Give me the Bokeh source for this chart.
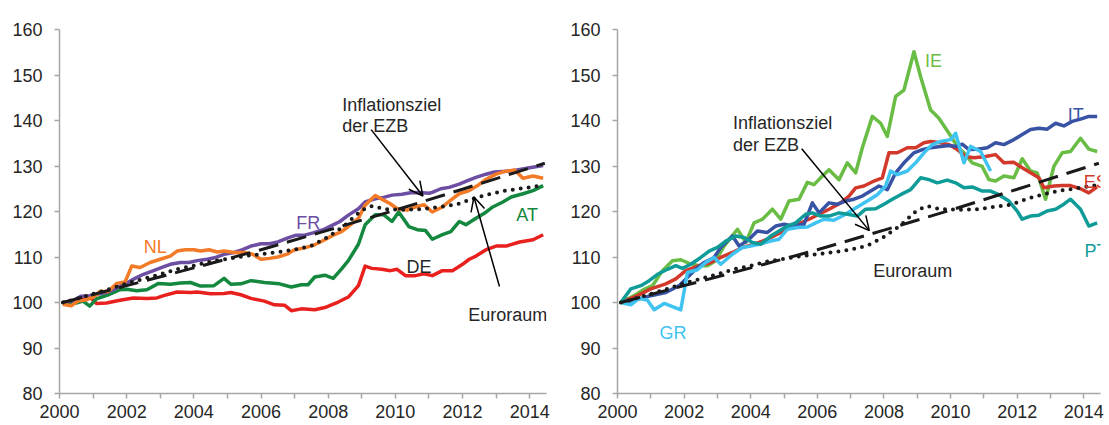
from bokeh.plotting import figure
from bokeh.layouts import row
from bokeh.models import Range1d, FixedTicker, Label, Arrow, OpenHead
from bokeh.embed import file_html
from bokeh.resources import INLINE

# ---------------- data ----------------
years_major = [2000, 2002, 2004, 2006, 2008, 2010, 2012, 2014]
years_minor = [2001, 2003, 2005, 2007, 2009, 2011, 2013]
y_ticks = [80, 90, 100, 110, 120, 130, 140, 150, 160]

# ECB inflation target path (index 2000 = 100)
EZB = [(2000.1, 100), (2002, 103.7), (2004, 107.6), (2006, 111.6), (2008, 115.9),
       (2010, 120.3), (2012, 124.9), (2014.45, 130.6)]

# Euro area price index (dotted)
EURORAUM = [(2000.1, 100), (2000.5, 100.8), (2001, 101.9), (2001.5, 103), (2002, 104.2),
            (2002.5, 105.2), (2003, 106.2), (2003.5, 107.3), (2004, 108.1), (2004.5, 109),
            (2005, 109.6), (2005.5, 110.2), (2006, 110.6), (2006.5, 111.1), (2007, 111.6),
            (2007.5, 112.5), (2008, 114.4), (2008.5, 117), (2009, 120.3), (2009.3, 121.2),
            (2009.7, 120.5), (2010.3, 120.4), (2010.8, 120.5), (2011.3, 121), (2011.8, 121.5),
            (2012.3, 122.8), (2012.8, 123.8), (2013.3, 124.6), (2013.8, 125.1), (2014.4, 125.8)]

DE = [(2000.1, 100), (2000.4, 100.4), (2000.9, 101.2), (2001.1, 99.8), (2001.4, 99.9),
      (2001.8, 100.5), (2002.2, 101), (2002.6, 100.9), (2002.9, 101), (2003.1, 101.5),
      (2003.5, 102.3), (2003.9, 102.2), (2004.1, 102.3), (2004.5, 101.9), (2004.9, 102),
      (2005.1, 102.2), (2005.4, 101.7), (2005.7, 100.9), (2006.1, 100.3), (2006.4, 99.5),
      (2006.7, 99.4), (2006.9, 98.2), (2007.2, 98.6), (2007.6, 98.4), (2007.9, 98.9),
      (2008.3, 100.1), (2008.6, 101.2), (2008.9, 103.7), (2009.1, 108), (2009.3, 107.5),
      (2009.6, 107.3), (2009.85, 107), (2010.05, 107.3), (2010.3, 105.9), (2010.6, 105.9),
      (2010.85, 106.3), (2011.1, 105.9), (2011.4, 107), (2011.7, 107), (2012.0, 108.4),
      (2012.2, 109.5), (2012.4, 110.2), (2012.7, 111.6), (2013.0, 112.4), (2013.3, 112.4),
      (2013.7, 113.3), (2014.1, 113.8), (2014.4, 114.9)]

AT = [(2000.1, 100), (2000.5, 99.9), (2000.7, 100.3), (2000.9, 99.2), (2001.1, 100.8),
      (2001.45, 101.7), (2001.8, 102.8), (2002.0, 102.9), (2002.3, 102.6), (2002.6, 102.8),
      (2002.95, 104.2), (2003.3, 104), (2003.6, 104.3), (2003.9, 104.4), (2004.2, 103.6),
      (2004.6, 103.7), (2004.9, 105.3), (2005.1, 104), (2005.4, 104.1), (2005.7, 104.8),
      (2006.1, 104.4), (2006.55, 104.1), (2006.9, 103.4), (2007.2, 103.9), (2007.4, 103.9),
      (2007.6, 105.6), (2007.9, 106), (2008.15, 105.3), (2008.4, 107.4), (2008.6, 109.2),
      (2008.9, 112.8), (2009.1, 117.1), (2009.4, 119.3), (2009.65, 119.3), (2009.9, 117.8),
      (2010.1, 119.9), (2010.4, 116.7), (2010.65, 116), (2010.9, 115.8), (2011.1, 113.9),
      (2011.4, 114.9), (2011.65, 115.6), (2011.9, 117.8), (2012.1, 117.1), (2012.4, 118.5),
      (2012.65, 119.6), (2012.9, 121), (2013.2, 122.1), (2013.45, 123.2), (2013.8, 123.9),
      (2014.1, 124.6), (2014.4, 125.7)]

NL = [(2000.1, 99.6), (2000.35, 99.3), (2000.55, 100.3), (2000.8, 100.6), (2001.05, 101.4),
      (2001.2, 102.4), (2001.45, 102.4), (2001.7, 104.2), (2001.95, 104.5), (2002.15, 108),
      (2002.4, 107.7), (2002.7, 108.8), (2003.0, 109.5), (2003.3, 110.2), (2003.5, 111.3),
      (2003.75, 111.6), (2004.0, 111.6), (2004.2, 111.3), (2004.45, 111.6), (2004.7, 111.1),
      (2004.9, 111.3), (2005.2, 111), (2005.5, 111), (2005.75, 110.6), (2006.0, 109.5),
      (2006.25, 109.7), (2006.5, 110), (2006.8, 110.7), (2007.0, 111.6), (2007.3, 112),
      (2007.6, 112.7), (2007.9, 113.8), (2008.15, 114.8), (2008.4, 115.6), (2008.6, 116.7),
      (2008.9, 118.5), (2009.1, 121.4), (2009.4, 123.5), (2009.65, 122.5), (2009.85, 121.7),
      (2010.05, 120.6), (2010.35, 120.3), (2010.6, 121), (2010.85, 121.5), (2011.1, 119.9),
      (2011.4, 121), (2011.65, 122.5), (2011.9, 123.9), (2012.2, 124.6), (2012.45, 125.7),
      (2012.7, 127.1), (2013.0, 128.2), (2013.25, 128.8), (2013.55, 129.1), (2013.8, 127.3),
      (2014.1, 127.8), (2014.4, 127.3)]

FR = [(2000.1, 100), (2000.4, 100.4), (2000.65, 101.4), (2000.9, 101.5), (2001.2, 101.9),
      (2001.45, 102.3), (2001.7, 103.2), (2002.0, 104.3), (2002.25, 105.3), (2002.5, 106.2),
      (2002.8, 107), (2003.05, 107.7), (2003.3, 108.4), (2003.6, 108.8), (2003.85, 108.8),
      (2004.1, 109.2), (2004.4, 109.5), (2004.65, 109.9), (2004.9, 110.6), (2005.2, 111),
      (2005.45, 111.6), (2005.7, 112.4), (2006.0, 112.9), (2006.25, 112.9), (2006.5, 113.3),
      (2006.8, 114.2), (2007.05, 114.8), (2007.3, 114.8), (2007.55, 115.3), (2007.85, 116),
      (2008.1, 116.9), (2008.35, 117.8), (2008.6, 119.2), (2008.9, 120.6), (2009.1, 122.1),
      (2009.4, 122.8), (2009.65, 123.1), (2009.9, 123.6), (2010.2, 123.8), (2010.45, 124.1),
      (2010.7, 124.2), (2011.0, 124), (2011.1, 124.2), (2011.35, 125), (2011.6, 125.3),
      (2011.9, 126), (2012.15, 126.8), (2012.4, 127.5), (2012.7, 128.2), (2012.95, 128.7),
      (2013.2, 128.8), (2013.45, 128.9), (2013.75, 129.3), (2014.0, 129.6), (2014.4, 130.1)]

IT = [(2000.1, 100), (2000.5, 100.5), (2001.0, 101.5), (2001.45, 102.2), (2001.85, 103.7),
      (2002.3, 107), (2002.6, 108.8), (2002.9, 109.9), (2003.1, 112.1), (2003.45, 114.6),
      (2003.65, 112.4), (2003.95, 113.9), (2004.2, 115.7), (2004.5, 115.4), (2004.75, 116.8),
      (2005.0, 117.2), (2005.25, 116.8), (2005.6, 117.2), (2005.85, 121.9), (2006.05, 119.7),
      (2006.35, 121.9), (2006.6, 121.6), (2006.85, 122.3), (2007.1, 122.7), (2007.35, 123.4),
      (2007.6, 124.5), (2007.85, 125.6), (2008.1, 124.8), (2008.35, 128.5), (2008.6, 130.7),
      (2008.9, 132.9), (2009.15, 133.6), (2009.4, 134), (2009.7, 134.3), (2009.95, 134.5),
      (2010.2, 134.3), (2010.35, 134.8), (2010.55, 133.6), (2010.8, 133.7), (2011.1, 134),
      (2011.35, 135.1), (2011.6, 134.7), (2011.9, 135.8), (2012.15, 136.9), (2012.4, 138),
      (2012.65, 138.3), (2012.9, 138.1), (2013.15, 139.4), (2013.4, 138.8), (2013.65, 139.8),
      (2013.9, 140.3), (2014.15, 140.9), (2014.4, 140.9)]

ES = [(2000.1, 100), (2000.6, 101.5), (2001.0, 103), (2001.45, 104.1), (2001.75, 105.2),
      (2002.05, 107), (2002.45, 108.1), (2002.8, 108.8), (2003.1, 109.9), (2003.45, 111),
      (2003.75, 112.1), (2004.1, 112.8), (2004.5, 113.9), (2004.8, 115), (2005.1, 116.1),
      (2005.4, 117.2), (2005.75, 118.3), (2006.05, 119.4), (2006.35, 120.5), (2006.7, 121.9),
      (2006.95, 123.4), (2007.15, 125.2), (2007.4, 125.6), (2007.7, 126.7), (2007.95, 127.4),
      (2008.15, 132.9), (2008.4, 132.9), (2008.7, 134), (2008.95, 134), (2009.2, 135.1),
      (2009.4, 135.4), (2009.7, 135.1), (2009.95, 134.7), (2010.2, 133.6), (2010.45, 132.1),
      (2010.7, 131.8), (2011.05, 132.1), (2011.35, 132.5), (2011.6, 130.7), (2011.9, 130.8),
      (2012.15, 129.6), (2012.4, 128.5), (2012.65, 127.4), (2012.8, 125.2), (2013.1, 125.6),
      (2013.35, 125.7), (2013.6, 125.7), (2013.9, 125), (2014.15, 124.1), (2014.4, 125.4)]

IE = [(2000.1, 100), (2000.5, 101.5), (2000.8, 102.9), (2001.05, 103.7), (2001.35, 107),
      (2001.65, 109.2), (2001.9, 109.4), (2002.15, 108.6), (2002.45, 108.1), (2002.7, 108.1),
      (2002.95, 109.2), (2003.2, 112.4), (2003.6, 116.1), (2003.85, 113.2), (2004.1, 117.5),
      (2004.35, 118.3), (2004.65, 120.5), (2004.9, 118.3), (2005.15, 122.3), (2005.45, 122.7),
      (2005.7, 126.4), (2005.9, 125.9), (2006.15, 127.8), (2006.35, 129.2), (2006.65, 127),
      (2006.9, 130.7), (2007.15, 128.5), (2007.35, 134), (2007.65, 140.9), (2007.9, 139.4),
      (2008.1, 136.5), (2008.35, 145.3), (2008.6, 146.7), (2008.9, 155.1), (2009.1, 149.6),
      (2009.4, 142.3), (2009.65, 140.5), (2009.95, 137.2), (2010.2, 134.3), (2010.4, 132.9),
      (2010.65, 130.7), (2010.95, 129.9), (2011.15, 127), (2011.35, 126.7), (2011.6, 127.8),
      (2011.9, 127.4), (2012.15, 131.6), (2012.4, 128.9), (2012.6, 128.5), (2012.85, 122.7),
      (2013.1, 129.9), (2013.35, 132.9), (2013.6, 133.2), (2013.9, 136.1), (2014.15, 133.7),
      (2014.4, 133.2)]

GR = [(2000.1, 100), (2000.4, 99.5), (2000.65, 100.9), (2000.9, 100.5), (2001.1, 98.4),
      (2001.4, 99.8), (2001.65, 99.1), (2001.9, 98.4), (2002.1, 106.6), (2002.4, 107.2),
      (2002.65, 108.8), (2002.9, 109.9), (2003.1, 108.4), (2003.45, 110.6), (2003.75, 112.1),
      (2004.0, 112.4), (2004.25, 112.8), (2004.6, 113.5), (2004.85, 113.9), (2005.1, 116.1),
      (2005.4, 116.5), (2005.7, 116.6), (2005.95, 117.5), (2006.2, 118.3), (2006.5, 118.1),
      (2006.75, 119), (2007.0, 120.1), (2007.25, 121.2), (2007.5, 122.3), (2007.8, 123.7),
      (2008.05, 125.6), (2008.2, 128.9), (2008.4, 128.1), (2008.7, 128.9), (2008.95, 130.7),
      (2009.2, 132.9), (2009.45, 134.7), (2009.7, 135.4), (2010.0, 135.8), (2010.15, 137.2),
      (2010.4, 130.7), (2010.6, 134.3), (2010.9, 133.2), (2011.2, 128.9)]

PT = [(2000.1, 100), (2000.4, 103), (2000.7, 103.7), (2000.95, 104.8), (2001.2, 106.2),
      (2001.5, 107.3), (2001.75, 108.1), (2001.95, 107.5), (2002.2, 108.4), (2002.5, 109.9),
      (2002.75, 111.3), (2003.0, 112.1), (2003.25, 113.5), (2003.55, 114.6), (2003.8, 114.3),
      (2004.05, 113.2), (2004.3, 112.8), (2004.6, 114.6), (2004.85, 115.7), (2005.1, 116.8),
      (2005.35, 117.5), (2005.65, 119.4), (2005.85, 119.7), (2006.1, 119), (2006.35, 119),
      (2006.65, 119.7), (2006.9, 119.4), (2007.2, 119), (2007.45, 120.5), (2007.75, 120.6),
      (2008.0, 121.6), (2008.25, 122.7), (2008.5, 123.7), (2008.8, 124.8), (2009.1, 127.4),
      (2009.35, 127), (2009.6, 126.3), (2009.9, 126.9), (2010.15, 126.3), (2010.4, 125.2),
      (2010.65, 125.4), (2010.95, 124.5), (2011.2, 124.5), (2011.45, 123.7), (2011.75, 122.3),
      (2012.0, 120.1), (2012.15, 118.3), (2012.4, 119), (2012.65, 119.2), (2012.9, 120.1),
      (2013.15, 120.5), (2013.4, 121.6), (2013.6, 122.7), (2013.9, 120.5), (2014.15, 116.8),
      (2014.4, 117.5)]

# ---------------- styling ----------------
FONT = "Liberation Sans"
TEXT = "#262626"
AXIS = "#a6a6a6"
C = {"DE": "#e8211f", "AT": "#13883e", "NL": "#f37a26", "FR": "#6c4ea3",
     "IT": "#3953a4", "ES": "#d2392b", "IE": "#69bd45", "GR": "#3fc3f0", "PT": "#0f9c98"}


def make_fig(width, height, ml, mr, mt, mb):
    p = figure(width=width, height=height, x_range=Range1d(2000, 2014.5), y_range=Range1d(80, 160),
               output_backend="svg", toolbar_location=None,
               min_border_left=ml, min_border_right=mr, min_border_top=mt, min_border_bottom=mb)
    p.xgrid.visible = False
    p.ygrid.visible = False
    p.outline_line_color = None
    p.background_fill_color = "white"
    p.border_fill_color = "white"
    p.xaxis.ticker = FixedTicker(ticks=years_major, minor_ticks=years_minor)
    p.yaxis.ticker = FixedTicker(ticks=y_ticks)
    for ax in (p.xaxis, p.yaxis):
        ax.axis_line_color = AXIS
        ax.axis_line_width = 1.5
        ax.major_tick_line_color = AXIS
        ax.major_tick_line_width = 1.5
        ax.minor_tick_line_color = AXIS
        ax.minor_tick_line_width = 1.5
        ax.major_tick_in = 0
        ax.major_tick_out = 5
        ax.minor_tick_in = 0
        ax.minor_tick_out = 5
        ax.major_label_text_font = FONT
        ax.major_label_text_font_size = "18px"
        ax.major_label_text_color = TEXT
    p.yaxis.minor_tick_line_color = None
    p.xaxis.major_label_standoff = 6
    p.yaxis.major_label_standoff = 12
    return p


def series(p, data, color, width=3.5):
    xs = [d[0] for d in data]
    ys = [d[1] for d in data]
    p.line(xs, ys, line_color=color, line_width=width, line_join="round")


def refs(p):
    p.line([d[0] for d in EURORAUM], [d[1] for d in EURORAUM], line_color="#1a1a1a",
           line_width=4, line_dash="0 8", line_cap="round")
    p.line([d[0] for d in EZB], [d[1] for d in EZB], line_color="#1a1a1a", line_width=3,
           line_dash="20 9")


def label(p, x, y, text, color=TEXT):
    p.add_layout(Label(x=x, y=y, text=text, text_color=color, text_font=FONT,
                       text_font_size="18px", text_baseline="alphabetic", text_align="left"))


def arrow(p, x0, y0, x1, y1):
    p.add_layout(Arrow(end=OpenHead(size=14, line_width=1.5, line_color="black"),
                       x_start=x0, y_start=y0, x_end=x1, y_end=y1,
                       line_color="black", line_width=1.5))


# ---------------- left panel ----------------
p1 = make_fig(560, 425, 59, 14, 22, 32)
series(p1, DE, C["DE"])
series(p1, AT, C["AT"])
series(p1, FR, C["FR"])
series(p1, NL, C["NL"])
refs(p1)
label(p1, 2002.51, 112.1, "NL", C["NL"])
label(p1, 2007.05, 117.5, "FR", C["FR"])
label(p1, 2010.33, 107.8, "DE")
label(p1, 2013.6, 119.3, "AT", C["AT"])
label(p1, 2008.42, 143.4, "Inflationsziel")
label(p1, 2008.42, 138.7, "der EZB")
label(p1, 2012.17, 97.3, "Euroraum")
arrow(p1, 2009.28, 138.0, 2010.82, 123.4)
arrow(p1, 2013.1, 103.5, 2012.34, 123.2)

# ---------------- right panel ----------------
p2 = make_fig(549, 425, 57, 9, 29, 31)
series(p2, IE, C["IE"])
series(p2, ES, C["ES"])
series(p2, IT, C["IT"])
series(p2, GR, C["GR"])
series(p2, PT, C["PT"])
refs(p2)
label(p2, 2003.47, 139.4, "Inflationsziel")
label(p2, 2003.47, 134.6, "der EZB")
arrow(p2, 2005.53, 133.8, 2007.56, 115.8)
label(p2, 2007.68, 106.9, "Euroraum")
label(p2, 2009.23, 153.1, "IE", C["IE"])
label(p2, 2013.52, 141.1, "IT", C["IT"])
label(p2, 2014.0, 126.5, "ES", C["ES"])
label(p2, 2014.02, 111.3, "PT", C["PT"])
label(p2, 2001.26, 93.4, "GR", C["GR"])

layout = row(p1, p2)
open("out.html", "w").write(file_html(layout, INLINE))
